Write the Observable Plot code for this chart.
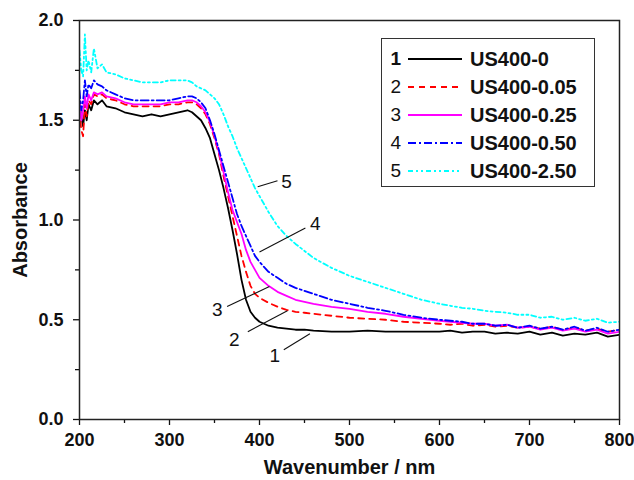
<!DOCTYPE html>
<html>
<head>
<meta charset="utf-8">
<script src="https://cdn.jsdelivr.net/npm/d3@7"></script>
<script src="https://cdn.jsdelivr.net/npm/@observablehq/plot@0.6"></script>
<style>
  body { margin: 0; background: #fff; }
  #wrap { position: relative; width: 634px; height: 480px; font-family: "Liberation Sans", Arial, sans-serif; }
  #legend { position: absolute; left: 381px; top: 38px; width: 214px; height: 149px; border: 1.5px solid #333; background: #fff; box-sizing: border-box; padding-top: 6px; }
  .row { display: flex; align-items: center; height: 28px; }
  .num { width: 19px; text-align: right; font-size: 19px; color: #111; }
  .lab { font-size: 20px; font-weight: bold; color: #111; margin-left: 7px; }
</style>
</head>
<body>
<div id="wrap"></div>
<script>
const wl = [200,202,204,206,208,210,213,216,220,225,230,240,250,260,270,280,290,300,310,320,325,330,335,340,345,350,355,360,365,370,375,380,385,390,395,400,410,420,430,440,450,460,480,500,520,540,560,580,600,612,625,637,650,662,675,687,700,712,725,737,750,762,775,787,800];

const s1 = [1.58,1.52,1.47,1.55,1.50,1.58,1.55,1.60,1.58,1.60,1.57,1.56,1.54,1.53,1.52,1.53,1.52,1.53,1.54,1.55,1.54,1.52,1.50,1.46,1.41,1.33,1.25,1.16,1.06,0.95,0.83,0.70,0.60,0.54,0.51,0.49,0.47,0.46,0.455,0.45,0.45,0.445,0.44,0.44,0.445,0.44,0.44,0.44,0.44,0.445,0.435,0.44,0.44,0.43,0.435,0.43,0.44,0.425,0.435,0.42,0.43,0.425,0.435,0.415,0.425];
const s2 = [1.55,1.45,1.42,1.58,1.52,1.60,1.58,1.63,1.62,1.63,1.61,1.60,1.58,1.57,1.57,1.57,1.57,1.58,1.58,1.59,1.59,1.58,1.56,1.53,1.48,1.41,1.33,1.22,1.12,1.02,0.92,0.82,0.74,0.67,0.63,0.61,0.585,0.565,0.55,0.54,0.535,0.53,0.52,0.51,0.505,0.50,0.49,0.485,0.48,0.475,0.48,0.47,0.475,0.465,0.47,0.46,0.465,0.455,0.465,0.45,0.46,0.445,0.455,0.44,0.45];
const s3 = [1.60,1.50,1.55,1.62,1.56,1.63,1.60,1.64,1.63,1.64,1.62,1.61,1.59,1.58,1.58,1.58,1.58,1.59,1.59,1.60,1.60,1.59,1.57,1.54,1.49,1.42,1.34,1.24,1.14,1.05,0.99,0.93,0.85,0.79,0.75,0.71,0.67,0.64,0.62,0.60,0.59,0.58,0.565,0.555,0.54,0.53,0.515,0.505,0.495,0.49,0.485,0.48,0.48,0.47,0.475,0.46,0.465,0.45,0.46,0.445,0.455,0.44,0.45,0.43,0.44];
const s4 = [1.65,1.55,1.60,1.70,1.62,1.68,1.66,1.70,1.68,1.67,1.65,1.63,1.61,1.60,1.60,1.60,1.60,1.60,1.61,1.62,1.62,1.61,1.59,1.56,1.50,1.43,1.35,1.27,1.19,1.11,1.03,0.97,0.92,0.87,0.82,0.79,0.74,0.71,0.68,0.66,0.645,0.63,0.60,0.58,0.56,0.545,0.525,0.51,0.50,0.495,0.49,0.48,0.48,0.47,0.475,0.46,0.47,0.455,0.465,0.45,0.465,0.445,0.46,0.44,0.45];
const s5 = [1.85,1.75,1.72,1.93,1.75,1.80,1.74,1.86,1.76,1.78,1.74,1.73,1.71,1.70,1.69,1.69,1.69,1.70,1.70,1.70,1.69,1.67,1.66,1.65,1.63,1.61,1.58,1.53,1.47,1.42,1.36,1.31,1.26,1.21,1.16,1.12,1.04,0.97,0.92,0.88,0.845,0.81,0.76,0.72,0.69,0.66,0.63,0.60,0.58,0.57,0.56,0.555,0.545,0.54,0.535,0.525,0.525,0.51,0.515,0.50,0.51,0.495,0.505,0.485,0.49];

const seriesNames = ["US400-0","US400-0.05","US400-0.25","US400-0.50","US400-2.50"];
const seriesNums = ["1","2","3","4","5"];
const seriesColors = ["#000000","#ff0000","#ff00ff","#0000ff","#00ffff"];
const seriesDash = [null,"6,5",null,"8,3,2,3","5,3,2,3,2,3"];
const seriesValues = [s1,s2,s3,s4,s5];

const yTicks = [0,0.5,1.0,1.5,2.0];
const yMinor = [0.25,0.75,1.25,1.75];
const xTicks = [200,300,400,500,600,700,800];
const xMinor = [250,350,450,550,650,750];

// annotations (label position and leader line in data units)
const annLabels = ["1","2","3","4","5"];
const annTx = [417,372,353,462,430];
const annTy = [0.32,0.40,0.55,0.98,1.19];
const annX1 = [427,387,364,400,398];
const annY1 = [0.35,0.44,0.566,0.84,1.167];
const annX2 = [456,431,411,451,420];
const annY2 = [0.43,0.545,0.667,0.96,1.197];

const annData = annLabels.map((t,i)=>({t, tx: annTx[i], ty: annTy[i], x1: annX1[i], y1: annY1[i], x2: annX2[i], y2: annY2[i]}));

const lineMarks = seriesValues.map((vals, i) =>
  Plot.line(wl.map((x, j) => ({x, y: vals[j]})), {
    x: "x", y: "y", stroke: seriesColors[i], strokeWidth: 1.8,
    strokeDasharray: seriesDash[i] || undefined, clip: true
  })
);

const chart = Plot.plot({
  width: 634,
  height: 480,
  marginLeft: 79,
  marginRight: 15,
  marginTop: 20,
  marginBottom: 61,
  style: { fontFamily: "'Liberation Sans', Arial, sans-serif", fontSize: "18px", color: "#111", background: "#fff" },
  x: { domain: [200, 800] },
  y: { domain: [0, 2] },
  marks: [
    Plot.axisX(xTicks, { tickSize: 6, tickPadding: 8, fontWeight: "bold", fontSize: 18, strokeWidth: 1.3,
      label: "Wavenumber / nm", labelAnchor: "center", labelOffset: 54, labelArrow: "none" }),
    Plot.axisX(xMinor, { tickSize: 4, tickFormat: () => "", label: null, strokeWidth: 1.3 }),
    Plot.axisY(yTicks, { tickSize: 6, tickPadding: 10, fontWeight: "bold", fontSize: 18, strokeWidth: 1.3,
      tickFormat: d3.format(".1f"),
      label: "Absorbance", labelAnchor: "center", labelOffset: 67, labelArrow: "none" }),
    Plot.axisY(yMinor, { tickSize: 4, tickFormat: () => "", label: null, strokeWidth: 1.3 }),
    ...lineMarks,
    Plot.link(annData, { x1: "x1", y1: "y1", x2: "x2", y2: "y2", stroke: "#111", strokeWidth: 1.1 }),
    Plot.text(annData, { x: "tx", y: "ty", text: "t", fontSize: 19, fill: "#111" }),
    Plot.frame({ stroke: "#222", strokeWidth: 1.5 })
  ]
});

// bold axis labels
d3.select(chart).selectAll("[aria-label='x-axis label'] text, [aria-label='y-axis label'] text")
  .attr("font-weight", "bold").attr("font-size", 20);

const wrap = document.getElementById("wrap");
wrap.appendChild(chart);

// legend overlay
const legend = document.createElement("div");
legend.id = "legend";
seriesNames.forEach((name, i) => {
  const row = document.createElement("div");
  row.className = "row";
  const num = document.createElement("span");
  num.className = "num";
  num.textContent = seriesNums[i];
  if (i === 0) num.style.fontWeight = "bold";
  row.appendChild(num);
  const svg = d3.create("svg").attr("width", 56).attr("height", 6).style("margin-left", "6px");
  svg.append("line").attr("x1", 1).attr("x2", 55).attr("y1", 3).attr("y2", 3)
    .attr("stroke", seriesColors[i]).attr("stroke-width", 1.8)
    .attr("stroke-dasharray", seriesDash[i]);
  row.appendChild(svg.node());
  const lab = document.createElement("span");
  lab.className = "lab";
  lab.textContent = name;
  row.appendChild(lab);
  legend.appendChild(row);
});
wrap.appendChild(legend);
</script>
</body>
</html>
